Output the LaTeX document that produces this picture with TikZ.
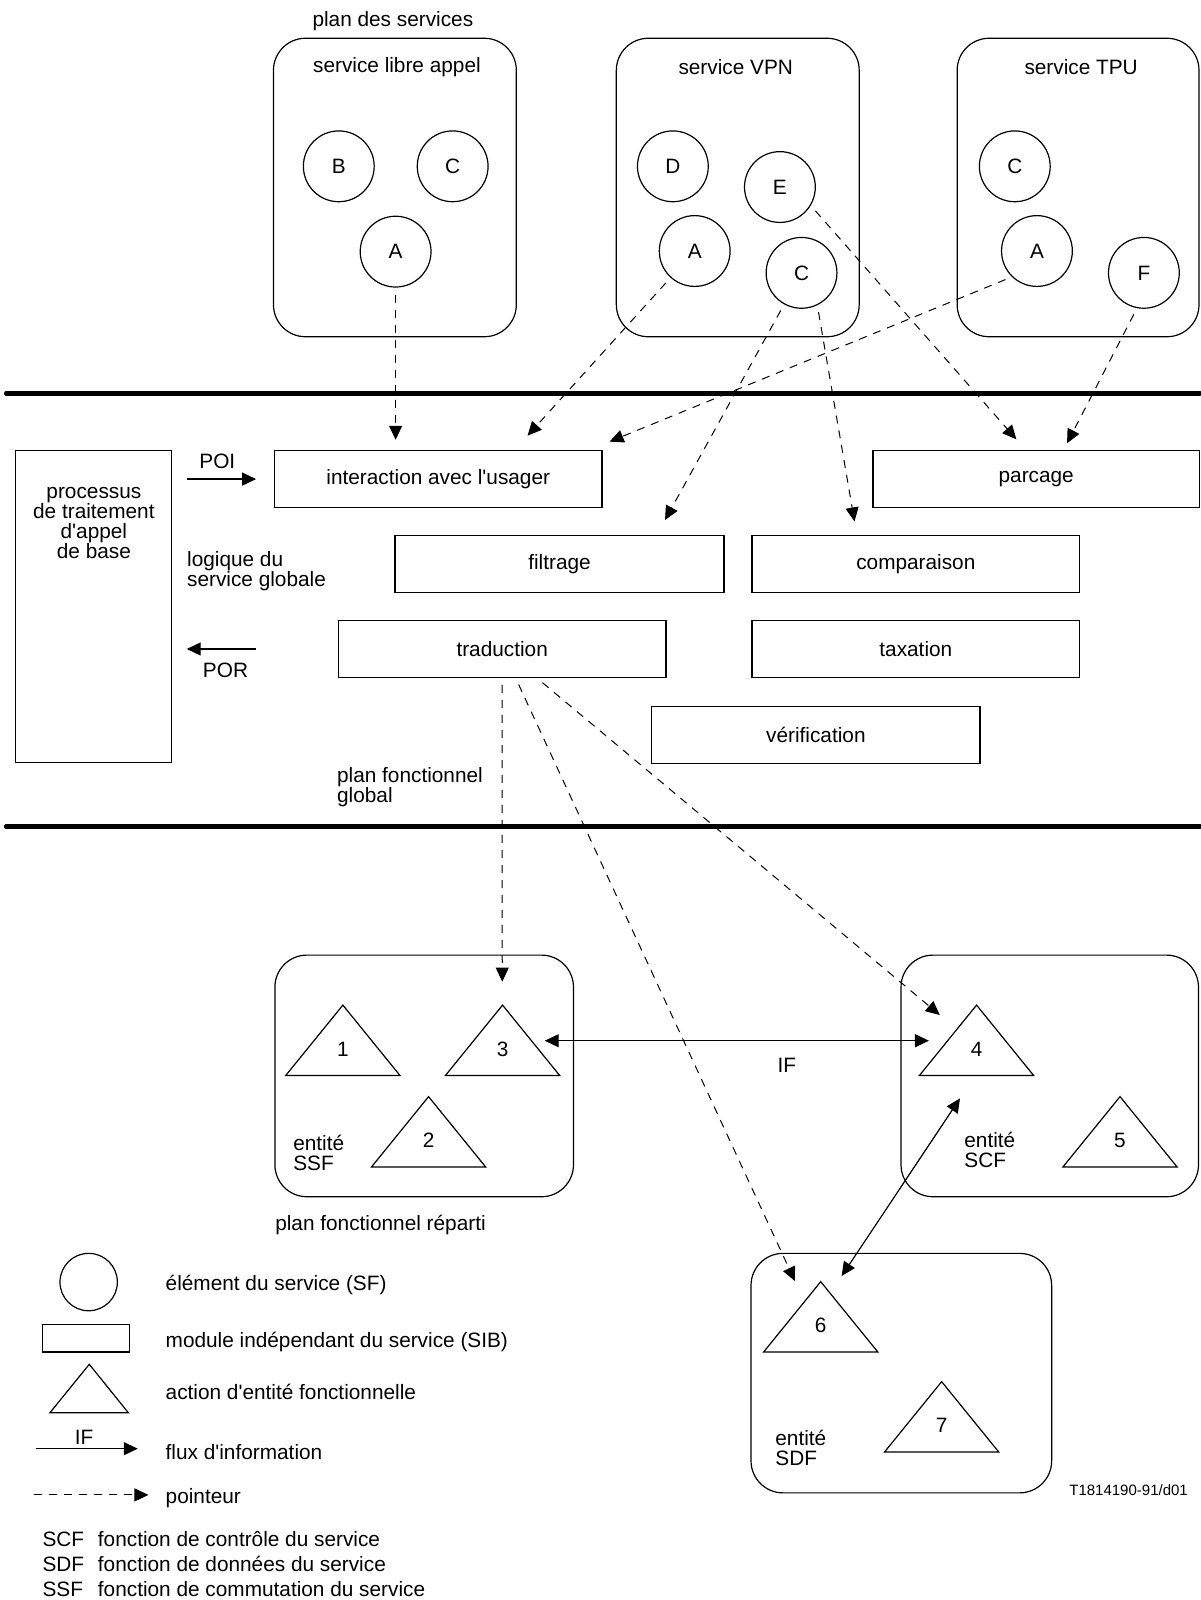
\documentclass[tikz,border=0pt]{standalone}
\usepackage{fontspec}
\setmainfont{Liberation Sans}
\usetikzlibrary{arrows.meta,fit}
\newcommand{\ap}{\textquotesingle}
\newcommand{\tri}[4]{%
  \draw[line width=0.6pt] (#2,#3) -- ++(-56,69) -- ++(112,0) -- cycle;
  \node (#1) at (#2,#3+43) {#4};
}
\begin{document}
\begin{tikzpicture}[x=0.5102pt,y=-0.5102pt,
  every node/.style={font=\fontsize{10.4}{10}\selectfont, inner sep=0pt},
  frame/.style={draw, line width=0.6pt, inner sep=0pt},
  rframe/.style={frame, rounded corners=16pt},
  sf/.style={circle, draw, line width=0.6pt, minimum size=35.4pt, inner sep=0pt},
  tip/.style={Triangle[length=7pt,width=6.5pt]},
  ptr/.style={dash pattern=on 4pt off 3.5pt, line width=0.5pt, -{Triangle[length=7pt,width=6.5pt]}, shorten <=3.5pt},
  flow/.style={line width=0.6pt, -{Triangle[length=7pt,width=6.5pt]}},
  dflow/.style={line width=0.6pt, {Triangle[length=7pt,width=6.5pt]}-{Triangle[length=7pt,width=6.5pt]}},
  sepline/.style={line width=2.2pt, line cap=round},
  lefttext/.style={anchor=west, align=left},
]
\useasboundingbox (0,0) rectangle (1176,1568);

% ---------- plan des services ----------
\node (ptitle) at (385,21) {plan des services};

\node[rframe, fit={(268,37.5) (506,330)}] (sla) {};
\node (slat) at (389,66) {service libre appel};
\node[sf] (slab) at (332,163) {B};
\node[sf] (slac) at (443.6,163) {C};
\node[sf] (slaa) at (387.7,246.6) {A};

\node[rframe, fit={(604,37.5) (842,330)}] (vpn) {};
\node (vpnt) at (721,66) {service VPN};
\node[sf] (vpnd) at (659.4,163) {D};
\node[sf] (vpne) at (764.3,183.3) {E};
\node[sf] (vpna) at (680.8,246) {A};
\node[sf] (vpnc) at (785.5,267.4) {C};

\node[rframe, fit={(938,37.5) (1175,330)}] (tpu) {};
\node (tput) at (1059.5,66) {service TPU};
\node[sf] (tpuc) at (994.5,163) {C};
\node[sf] (tpua) at (1016.2,246) {A};
\node[sf] (tpuf) at (1121,267.4) {F};

% separators
\coordinate (s1a) at (6,385.5);
\coordinate (s1b) at (1176,385.5);
\draw[sepline] (s1a) -- (s1b);
\coordinate (s2a) at (6,810);
\coordinate (s2b) at (1176,810);
\draw[sepline] (s2a) -- (s2b);

% ---------- plan fonctionnel global ----------
\node[frame, fit={(15,441.7) (168,747)}] (proc) {};
\node[align=center] (proct) at (92,512.6) {processus\\de traitement\\d\ap appel\\de base};

\node (poi) at (213,452) {POI};
\coordinate (poia) at (183,469.5);
\coordinate (poib) at (251,469.5);
\draw[flow] (poia) -- (poib);
\coordinate (pora) at (251,636);
\coordinate (porb) at (183,636);
\draw[flow] (pora) -- (porb);
\node (por) at (221,656.7) {POR};

\node[lefttext] (logique) at (183,559.3) {logique du\\service globale};
\node[lefttext] (pfg) at (330,771.4) {plan fonctionnel\\global};

\node[frame, fit={(269,441.7) (590,497)}] (inter) {};
\node (intert) at (inter.center) {interaction avec l\ap usager};
\node[frame, fit={(855.5,441.7) (1175.5,497)}] (parc) {};
\node (parct) at (parc.center) {parcage};
\node[frame, fit={(387,525) (709.6,580.5)}] (filt) {};
\node (filtt) at (filt.center) {filtrage};
\node[frame, fit={(737,525) (1058,580.5)}] (comp) {};
\node (compt) at (comp.center) {comparaison};
\node[frame, fit={(331.6,608) (652.7,664)}] (trad) {};
\node (tradt) at (trad.center) {traduction};
\node[frame, fit={(737,608) (1058,664)}] (tax) {};
\node (taxt) at (tax.center) {taxation};
\node[frame, fit={(638.7,692.5) (960.4,748)}] (verif) {};
\node (verift) at (verif.center) {vérification};

% pointer tips
\coordinate (t1) at (387.7,431);
\coordinate (t2) at (517,427);
\coordinate (t3) at (597.4,432.8);
\coordinate (t4) at (651.7,509.6);
\coordinate (t5) at (837.4,511);
\coordinate (t6) at (996,430.5);
\coordinate (t7) at (1045.7,434.4);
\coordinate (t8) at (492.2,962);
\coordinate (t9) at (779,1255.4);
\coordinate (t10) at (921,994.7);

\draw[ptr] (slaa.south) -- (t1);
\draw[ptr] (vpna) -- (t2);
\draw[ptr] (tpua.-134) -- (t3);
\draw[ptr] (vpnc) -- (t4);
\draw[ptr] (vpnc.-64) -- (t5);
\draw[ptr] (vpne.-31) -- (t6);
\draw[ptr] (tpuf.-101) -- (t7);
\draw[ptr] (trad.south) -- (t8);
\draw[ptr] (trad) -- (t9);
\draw[ptr] (trad) -- (t10);

% ---------- plan fonctionnel reparti ----------
\node[rframe, fit={(269.4,936) (562,1172.8)}] (ssf) {};
\tri{n1}{336}{985}{1}
\tri{n3}{492.5}{985}{3}
\tri{n2}{420}{1074.7}{2}
\node[lefttext] (ssft) at (287,1130.3) {entité\\SSF};
\node[lefttext] (pfr) at (269.4,1200.5) {plan fonctionnel réparti};

\node[rframe, fit={(883,936) (1174.5,1172.8)}] (scf) {};
\tri{n4}{957}{985}{4}
\tri{n5}{1097.6}{1074.7}{5}
\node[lefttext] (scft) at (944.7,1127) {entité\\SCF};

\node[rframe, fit={(736,1228.3) (1030.6,1463)}] (sdf) {};
\tri{n6}{804.3}{1256}{6}
\tri{n7}{922.8}{1354}{7}
\node[lefttext] (sdft) at (759.5,1419.3) {entité\\SDF};

\coordinate (if3) at (533.8,1019.9);
\coordinate (if4) at (910.4,1019.9);
\draw[dflow] (if3) -- (if4);
\node (ift) at (771,1043.7) {IF};
\coordinate (d4) at (940.8,1076.4);
\coordinate (d6) at (824.8,1250.5);
\draw[dflow] (d4) -- (d6);

\node[font=\fontsize{7.5}{8}\selectfont] (tcode) at (1106,1460.8) {T1814190-91/d01};

% ---------- legend ----------
\node[circle, draw, line width=0.6pt, minimum size=28.7pt] (lcirc) at (86.9,1256.4) {};
\node[frame, fit={(41.8,1297.8) (126.7,1325)}] (lrect) {};
\draw[line width=0.6pt] (87.5,1337) -- (49,1384.4) -- (125.7,1384.4) -- cycle;
\coordinate (lfa) at (34.9,1419.7);
\coordinate (lfb) at (135,1419.7);
\draw[flow] (lfa) -- (lfb);
\node (lift) at (82.5,1408.7) {IF};
\coordinate (lpa) at (33.7,1465);
\coordinate (lpb) at (145.5,1465);
\draw[ptr, shorten <=0pt] (lpa) -- (lpb);

\node[anchor=west] (lg1) at (162,1259.3) {élément du service (SF)};
\node[anchor=west] (lg2) at (162,1315.5) {module indépendant du service (SIB)};
\node[anchor=west] (lg3) at (162,1364.5) {action d\ap entité fonctionnelle};
\node[anchor=west] (lg4) at (162,1422.6) {flux d\ap information};
\node[anchor=west] (lg5) at (162,1468.3) {pointeur};

\node[anchor=west] (ab1) at (41.3,1508.5) {SCF};
\node[anchor=west] (ab1t) at (95.6,1508.5) {fonction de contrôle du service};
\node[anchor=west] (ab2) at (41.3,1533) {SDF};
\node[anchor=west] (ab2t) at (95.6,1533) {fonction de données du service};
\node[anchor=west] (ab3) at (41.3,1557.5) {SSF};
\node[anchor=west] (ab3t) at (95.6,1557.5) {fonction de commutation du service};
\end{tikzpicture}
\end{document}
